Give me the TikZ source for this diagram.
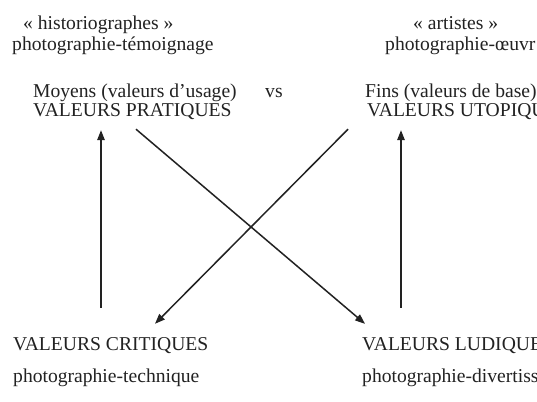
\documentclass[tikz,border=0pt]{standalone}
\usepackage{fontspec}
\setmainfont{Liberation Serif}
\usepackage{xcolor}
\usepackage{tikz}
\usetikzlibrary{arrows.meta}
\definecolor{inkgray}{HTML}{222222}

\begin{document}
\begin{tikzpicture}[x=1pt, y=-1pt,
        label/.style={anchor=base west, inner sep=0pt, text height=13pt, text depth=0pt,
            font=\fontsize{19.6}{23}\selectfont, text=inkgray},
        valuearrow/.style={draw=inkgray, line width=1.5pt, -{Triangle[length=10pt, width=7.5pt]}}]
        \clip (0,0) rectangle (537,401);
        \fill[white] (0,0) rectangle (537,401);

        % Top: the two camps
        \node[label] (hist) at (23,30) {« historiographes »};
        \node[label] (temoin) at (12,51) {photographie-témoignage};
        \node[label] (art) at (413,30) {« artistes »};
        \node[label] (oeuvre) at (385,51) {photographie-œuvr};

        % Means vs ends
        \node[label] (moyens) at (33,97) {Moyens (valeurs d’usage)};
        \node[label] (prat) at (33,117) {VALEURS PRATIQUES};
        \node[label] (vs) at (265,97) {vs};
        \node[label] (fins) at (365,97) {Fins (valeurs de base)};
        \node[label] (utop) at (367,117) {VALEURS UTOPIQU};

        % Bottom values
        \node[label] (crit) at (13,350) {VALEURS CRITIQUES};
        \node[label] (tech) at (13,382) {photographie-technique};
        \node[label] (lud) at (362,350) {VALEURS LUDIQUE};
        \node[label] (divert) at (362,382) {photographie-divertiss};

        % Vertical arrows
        \draw[valuearrow] ([shift={(88,-29)}]crit.north west) -- ([shift={(68,13)}]prat.south west);
        \draw[valuearrow] ([shift={(39,-29)}]lud.north west) -- ([shift={(34,13)}]utop.south west);

        % Crossing arrows
        \draw[valuearrow] ([shift={(103,12)}]prat.south west) -- ([shift={(3,-13)}]lud.north west);
        \draw[valuearrow] ([shift={(-19,12)}]utop.south west) -- ([shift={(142,-13)}]crit.north west);
    \end{tikzpicture}
\end{document}
